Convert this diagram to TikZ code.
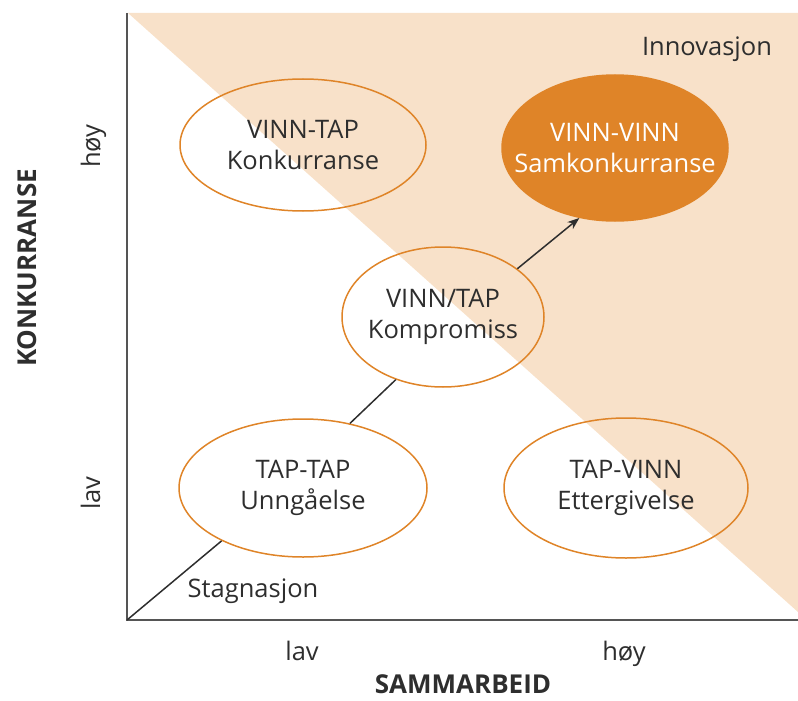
\documentclass[tikz,border=0pt]{standalone}
\usepackage{fontspec}
\setmainfont{Open Sans}
\usetikzlibrary{shapes.geometric,arrows.meta}
\definecolor{peach}{HTML}{F8E1C9}
\definecolor{orng}{HTML}{DF8428}
\definecolor{txt}{HTML}{2E2E2E}
\definecolor{axisgray}{HTML}{555555}
\begin{document}
\begin{tikzpicture}[x=1pt,y=-1pt,
  oval/.style={ellipse, draw=orng, line width=1.5pt, inner sep=-80pt, align=center, text=txt, font=\fontsize{25.5}{31}\selectfont},
  lbl/.style={text=txt, font=\fontsize{25.5}{30}\selectfont, inner sep=0pt},
  axlbl/.style={text=txt, font=\bfseries\fontsize{26}{30}\selectfont, inner sep=0pt},
  conn/.style={draw=txt, line width=1.5pt}]
\useasboundingbox (0,0) rectangle (798,701);
\fill[peach] (128,13) -- (798,13) -- (798,612) -- cycle;
\draw[axisgray, line width=2pt] (127,13) -- (127,620) -- (798,620);
\coordinate (O) at (127,620);
\node[oval, minimum width=246pt, minimum height=132pt] (vtap) at (303,145) {VINN-TAP\\Konkurranse};
\node[oval, fill=orng, text=white, minimum width=226pt, minimum height=146pt] (vv) at (615,148) {VINN-VINN\\Samkonkurranse};
\node[oval, minimum width=202pt, minimum height=140pt] (komp) at (443,317) {VINN/TAP\\Kompromiss};
\node[oval, minimum width=248pt, minimum height=138pt] (tt) at (303,488) {TAP-TAP\\Unngåelse};
\node[oval, minimum width=244pt, minimum height=140pt] (tv) at (626,488) {TAP-VINN\\Ettergivelse};
\draw[conn] (O) -- (tt.213);
\draw[conn] (tt.54) -- (komp.233);
\draw[conn, -{Stealth[length=12pt,width=9pt]}] (komp.33) -- (vv.243);
\node[lbl, anchor=base] (inn) at (707,56) {Innovasjon};
\node[lbl, anchor=base] (stag) at (253,597) {Stagnasjon};
\node[lbl, anchor=base] (xlav) at (302,660) {lav};
\node[lbl, anchor=base] (xhoy) at (624,660) {høy};
\node[lbl, anchor=base, rotate=90] (ylav) at (100,493) {lav};
\node[lbl, anchor=base, rotate=90] (yhoy) at (100,146) {høy};
\node[axlbl, anchor=base] (xt) at (463,693) {SAMMARBEID};
\node[axlbl, anchor=base, rotate=90] (yt) at (36,268) {KONKURRANSE};
\end{tikzpicture}
\end{document}
